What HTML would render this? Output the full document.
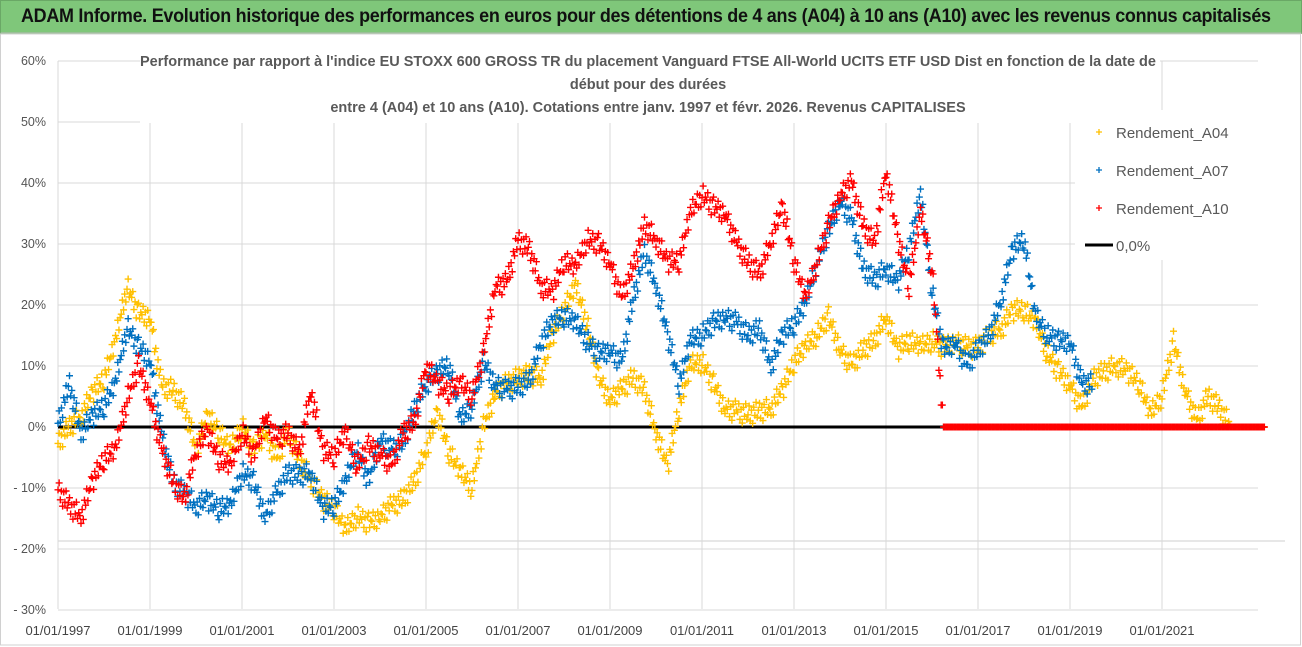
<!DOCTYPE html>
<html><head><meta charset="utf-8">
<style>
body{margin:0;width:1302px;height:647px;overflow:hidden;background:#fff;font-family:"Liberation Sans",sans-serif;}
#banner{position:absolute;left:0;top:0;width:1300px;height:31px;background:#7fc77a;border:1px solid #6aa866;border-bottom:2px solid #9bbf98;}
#banner span{position:absolute;left:20px;top:5px;font-size:19px;font-weight:bold;color:#111;letter-spacing:-0.3px;white-space:nowrap;transform:scaleX(0.945);transform-origin:0 0;}
svg{position:absolute;left:0;top:0;}
</style></head><body>
<div id="banner"><span>ADAM Informe. Evolution historique des performances en euros pour des détentions de 4 ans (A04) à 10 ans (A10) avec les revenus connus capitalisés</span></div>
<svg id="chart" width="1302" height="647"></svg>
<script>
const startYear = 1997;
const stepYears = 0.25;
const tickLabels = ["01/01/1997","01/01/1999","01/01/2001","01/01/2003","01/01/2005","01/01/2007","01/01/2009","01/01/2011","01/01/2013","01/01/2015","01/01/2017","01/01/2019","01/01/2021"];
const yTicks = [60,50,40,30,20,10,0,-10,-20,-30];
const seriesA04 = [-2.7,0,1.7,5.5, 7.7,14,23,18.6, 18,6.6,6,3.3, -3.8,1.7,-1,-3.8, 0,-3.8,-1,-5.4, -1,-5.4,-8.7,-12, -13.6,-17,-14.7,-15.8, -14.7,-13,-12,-9, -3.8,2.2,-4.3,-7.6, -10,0,5.5,7, 8,8.5,8,15, 19,23,17,8, 4.5,6,8,6, -1,-6.6,3,10, 10.5,7,3,2.5, 2,2.5,3,6, 10.5,13,15,18, 12.6,10,12.6,14, 18,12.6,14,13, 14,13,14,13, 13,15,16,19, 19,17,12,9, 7,3,8,9, 10,9,7,2, 5,14,6,1, 5,3,0,0, 0];
const seriesA07 = [0.6,7,-1,1.7, 3.3,7,16.4,13, 11,-1,-9,-11, -13,-12,-13.6,-13, -7.6,-9,-14.7,-11, -7.6,-8,-7.6,-13.6, -13,-9,-3.8,-9, -2,-3.8,-2.7,2.8, 7,8.8,10,1, 3.3,10.5,7,6, 6.5,7.5,14,17, 18,17,14,12, 12.5,10.5,20.8,28.5, 23,15,7,14, 15,17,18,17, 15,16,10,15, 16.7,20,27,32, 37,34,26,24, 26,23.5,29,38, 22,12.6,13.9,10, 12.6,15,20.8,29, 30.6,18,15,14, 14,7];
const seriesA10 = [-10.3,-13,-14.7,-9, -5.4,-3.8,4.4,10, 4.4,-3.8,-9,-12, -3.8,-1,-5.4,-6.5, -1,-4.9,1.7,-2.1, -1,-4.3,6,-3.8, -4.9,-1,-6.5,-3.2, -4.3,-6.5,-1,0.6, 10,7,5.5,7, 5,12,23,23.5, 30.6,29,23,22, 27,26,30.6,30, 27,21,26,33, 30.6,27,27,35, 38,36,35,30, 27,25,30.6,36, 27,21,27,33, 38,40,33,30, 42,31,23,35, 26,0,0,0, 0,0,0,0, 0,0,0,0, 0,0,0,0, 0,0,0,0, 0,0,0,0, 0,0,0,0, 0];
const seriesNames = ["Rendement_A04","Rendement_A07","Rendement_A10"];
const colors = ["#FFC000","#0070C0","#FF0000"];

const L=58,R=1258,T=61,B=609;
const NS="http://www.w3.org/2000/svg";
const svg=document.getElementById('chart');
function xS(year){return L+(year-1997)*46;}
function yS(v){return 427-v*6.1;}
function mk(tag,attrs,parent){const e=document.createElementNS(NS,tag);for(const k in attrs)e.setAttribute(k,attrs[k]);(parent||svg).appendChild(e);return e;}
const fr=mk('rect',{x:0.5,y:34,width:1300,height:611,fill:'none',stroke:'#d0d0d0'});


yTicks.forEach(v=>{
  const g=mk('line',{x1:L,x2:R,y1:yS(v),y2:yS(v),stroke:'#d9d9d9','stroke-width':1});
  
  
  const t=mk('text',{x:46,y:yS(v)+4,'text-anchor':'end','font-size':12.5,fill:'#555'});
  t.textContent=(v<0?'- '+(-v):v)+'%';
  
  
});
const ex=mk('line',{x1:L,x2:1285,y1:541,y2:541,stroke:'#cfcfcf'});


tickLabels.forEach((lab,i)=>{
  const x=xS(1997+2*i);
  const g=mk('line',{x1:x,x2:x,y1:T,y2:B,stroke:'#d9d9d9'});
  
  
  const t=mk('text',{x:x,y:635,'text-anchor':'middle','font-size':13,fill:'#444'});
  t.textContent=lab;
  
  
});
const z=mk('line',{x1:L,x2:R,y1:yS(0),y2:yS(0),stroke:'#000','stroke-width':3});


const titleLines=["Performance par rapport à l'indice EU STOXX 600 GROSS TR  du placement Vanguard FTSE All-World UCITS ETF USD Dist en fonction de la date de","début pour des durées","entre 4 (A04) et 10 ans (A10). Cotations entre janv. 1997 et févr. 2026. Revenus CAPITALISES"];
const bg=mk('rect',{x:140,y:45,width:1020,height:78,fill:'#fff'});


titleLines.forEach((s,i)=>{
  const t=mk('text',{x:648,y:66+i*23,'text-anchor':'middle','font-size':14.5,'font-weight':'bold',fill:'#595959'});
  t.textContent=s;
  
  
});
const jit=[0,1.4,-1.1,0.6,-1.6,1.0,-0.4,1.7,-0.8,0.3];
function drawSeries(arr,color,name){
  const g=mk('g',{stroke:color,'stroke-width':1.4});
  
  
  for(let i=0;i<arr.length;i++){
    const v0=arr[i],v1=(i+1<arr.length)?arr[i+1]:arr[i];
    for(let k=0;k<10;k++){
      const f=k/10;
      const yr=startYear+(i+f)*stepYears;
      const v=v0+(v1-v0)*f+(v0===0&&v1===0?0:jit[(k+i)%10]);
      const x=xS(yr),y=yS(v);
      const p=mk('path',{d:`M${x-3.5} ${y}h7M${x} ${y-3.5}v7`},g);
      
      
    }
  }
}
drawSeries(seriesA04,colors[0],'series-a04');
drawSeries(seriesA07,colors[1],'series-a07');
drawSeries(seriesA10,colors[2],'series-a10');
const lb=mk('rect',{x:1075,y:110,width:190,height:150,fill:'#fff'});


seriesNames.forEach((n,i)=>{
  const y=132+i*38;
  const m=mk('path',{d:`M1096 ${y}h6M1099 ${y-3}v6`,stroke:colors[i],'stroke-width':1.3});
  
  
  const t=mk('text',{x:1116,y:y+6,'font-size':15,fill:'#595959'});
  t.textContent=n;
  
  
});
const ll=mk('line',{x1:1085,x2:1113,y1:245,y2:245,stroke:'#000','stroke-width':3});


const lt=mk('text',{x:1116,y:251,'font-size':15,fill:'#595959'});
lt.textContent='0,0%';


</script>
</body></html>
